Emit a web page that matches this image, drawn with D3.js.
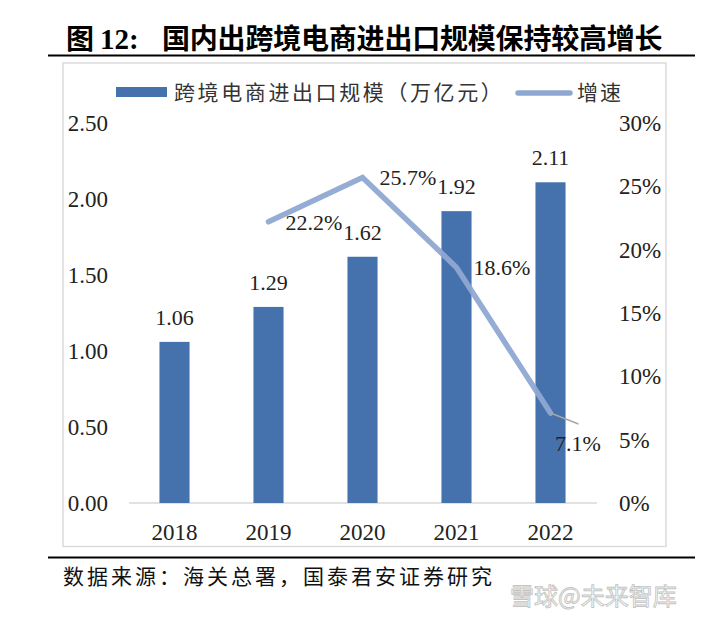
<!DOCTYPE html>
<html>
<head>
<meta charset="utf-8">
<script src="https://cdn.jsdelivr.net/npm/d3@7"></script>
<style>
  html, body { margin: 0; padding: 0; background: #fff; }
  svg { display: block; }
</style>
</head>
<body>
<svg id="chart" width="701" height="618"></svg>
<script>
// ---- data ----
const years = ["2018", "2019", "2020", "2021", "2022"];
const scaleValues = [1.06, 1.29, 1.62, 1.92, 2.11];           // 跨境电商进出口规模（万亿元）
const growthYears = ["2019", "2020", "2021", "2022"];
const growthValues = [0.222, 0.257, 0.186, 0.071];            // 增速
const leftTicks = [0, 0.5, 1.0, 1.5, 2.0, 2.5];
const rightTicks = [0, 0.05, 0.10, 0.15, 0.20, 0.25, 0.30];
const titleText = "国内出跨境电商进出口规模保持较高增长";
const legendBarText = "跨境电商进出口规模（万亿元）";
const legendLineText = "增速";
const sourceText = "数据来源：海关总署，国泰君安证券研究";

// ---- styles ----
const barColor = "#4571ad";
const lineColor = "#8fa8d2";
const serif = "'Liberation Serif', 'Times New Roman', serif";
const cjk = "'Noto Sans CJK SC', 'Noto Sans', sans-serif";

const svg = d3.select("#chart");

// title
const title = svg.append("text").attr("y", 49).attr("font-weight", "bold").attr("fill", "#000");
title.append("tspan").attr("x", 66).attr("font-family", cjk).attr("font-size", 28).text("图");
title.append("tspan").attr("x", 100).attr("font-family", serif).attr("font-size", 29).text("12:");
title.append("tspan").attr("x", 162).attr("font-family", cjk).attr("font-size", 28).attr("letter-spacing", -0.2).text(titleText);

svg.append("line").attr("x1", 48).attr("x2", 695).attr("y1", 55.5).attr("y2", 55.5)
  .attr("stroke", "#000").attr("stroke-width", 2.2);
svg.append("line").attr("x1", 48).attr("x2", 695).attr("y1", 557.5).attr("y2", 557.5)
  .attr("stroke", "#000").attr("stroke-width", 2.2);

// chart frame
svg.append("rect").attr("x", 63).attr("y", 63).attr("width", 603).attr("height", 483.5)
  .attr("fill", "none").attr("stroke", "#d9d9d9").attr("stroke-width", 1.4);

// scales
const x = d3.scaleBand().domain(years).range([127.5, 597.5]).paddingInner(0.68).paddingOuter(0.34);
const yL = d3.scaleLinear().domain([0, 2.5]).range([503, 123]);
const yR = d3.scaleLinear().domain([0, 0.30]).range([503, 123]);

// axes
const axL = svg.append("g").attr("transform", "translate(108,0)")
  .call(d3.axisLeft(yL).tickValues(leftTicks).tickFormat(d3.format(".2f")).tickSize(0).tickPadding(0));
const axR = svg.append("g").attr("transform", "translate(619,0)")
  .call(d3.axisRight(yR).tickValues(rightTicks).tickFormat(d3.format(".0%")).tickSize(0).tickPadding(0));
const axB = svg.append("g").attr("transform", `translate(0,${yL(0)})`)
  .call(d3.axisBottom(x).tickSize(0).tickPadding(0));
[axL, axR, axB].forEach(g => {
  g.select(".domain").remove();
  g.selectAll("text").attr("font-family", serif).attr("font-size", 23).attr("fill", "#222");
});
axB.selectAll("text").attr("y", 37).attr("dy", 0);

// baseline
svg.append("line").attr("x1", 129).attr("x2", 597).attr("y1", yL(0)).attr("y2", yL(0))
  .attr("stroke", "#d9d9d9").attr("stroke-width", 1.5);

// bars
const barData = years.map((y, i) => ({ year: y, v: scaleValues[i] }));
svg.append("g").selectAll("rect").data(barData).join("rect")
  .attr("x", d => x(d.year)).attr("width", x.bandwidth())
  .attr("y", d => yL(d.v)).attr("height", d => yL(0) - yL(d.v))
  .attr("fill", barColor);
svg.append("g").selectAll("text").data(barData).join("text")
  .attr("x", d => x(d.year) + x.bandwidth() / 2).attr("y", d => yL(d.v) - 17)
  .attr("text-anchor", "middle").attr("font-family", serif).attr("font-size", 22).attr("fill", "#222")
  .text(d => d.v.toFixed(2));

// growth line
const lineData = growthYears.map((y, i) => ({ year: y, v: growthValues[i] }));
const cx = d => x(d.year) + x.bandwidth() / 2;
const line = d3.line().x(cx).y(d => yR(d.v));
svg.append("path").datum(lineData).attr("d", line)
  .attr("fill", "none").attr("stroke", lineColor).attr("stroke-width", 5.5)
  .attr("stroke-linecap", "round").attr("stroke-linejoin", "miter").attr("opacity", 0.95);

// leader for last label
const last = lineData[lineData.length - 1];
svg.append("line").attr("x1", cx(last)).attr("y1", yR(last.v))
  .attr("x2", cx(last) + 28).attr("y2", yR(last.v) + 11)
  .attr("stroke", "#a6a6a6").attr("stroke-width", 1.5);

svg.append("g").selectAll("text").data(lineData).join("text")
  .attr("x", (d, i) => i === lineData.length - 1 ? cx(d) + 4.5 : cx(d) + 17)
  .attr("y", (d, i) => i === lineData.length - 1 ? yR(d.v) + 38 : yR(d.v) + 8)
  .attr("font-family", serif).attr("font-size", 22).attr("fill", "#222")
  .text(d => (d.v * 100).toFixed(1) + "%");

// legend
svg.append("rect").attr("x", 116).attr("y", 87).attr("width", 51).attr("height", 10).attr("fill", barColor);
svg.append("text").attr("x", 174).attr("y", 92).attr("dy", "0.36em")
  .attr("font-family", cjk).attr("font-size", 21).attr("letter-spacing", 2.6).attr("fill", "#333")
  .text(legendBarText);
svg.append("line").attr("x1", 518).attr("x2", 570).attr("y1", 93).attr("y2", 93)
  .attr("stroke", lineColor).attr("stroke-width", 5.5).attr("stroke-linecap", "round");
svg.append("text").attr("x", 577).attr("y", 92).attr("dy", "0.36em")
  .attr("font-family", cjk).attr("font-size", 21).attr("letter-spacing", 2).attr("fill", "#333")
  .text(legendLineText);

// source
svg.append("text").attr("x", 63).attr("y", 576).attr("dy", "0.36em")
  .attr("font-family", cjk).attr("font-size", 21).attr("letter-spacing", 3).attr("fill", "#111")
  .text(sourceText);

// watermark
svg.append("text").attr("x", 510).attr("y", 596).attr("dy", "0.36em")
  .attr("font-family", cjk).attr("font-size", 24).attr("fill", "#fff")
  .attr("stroke", "#c4c4c4").attr("stroke-width", 0.9)
  .text("雪球@未来智库");
</script>
</body>
</html>
